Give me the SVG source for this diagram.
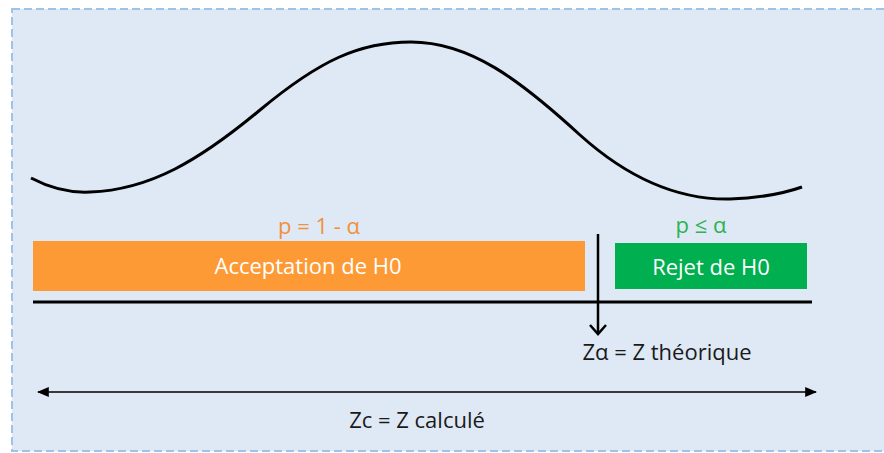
<svg xmlns="http://www.w3.org/2000/svg" width="884" height="453" viewBox="0 0 884 453">
<defs>
<style>
.t{font-family:"Open Sans","Noto Sans",sans-serif;}
.lbl{font-size:22px;fill:#ffffff;text-anchor:middle;}
.cap{font-size:22px;fill:#1a1a1a;text-anchor:middle;}
</style>
<marker id="ah" viewBox="0 0 10 10" refX="9" refY="5" markerWidth="12" markerHeight="12" markerUnits="userSpaceOnUse" orient="auto-start-reverse">
<path d="M0,0.8 L10,5 L0,9.2 z" fill="#000"/>
</marker>
</defs>
<rect x="12" y="9" width="880" height="442" fill="#DEE9F5" stroke="#9DC3E6" stroke-width="2" stroke-dasharray="8,4"/>
<g id="curve">
<path d="M31,178 C50,188 70,193 90,192 C150,190 200,160 260,110 C320,60 360,42 411,42 C470,42 520,80 580,135 C630,180 680,200 730,199 C760,198 785,193 802,187" fill="none" stroke="#000" stroke-width="3"/>
</g>
<g id="acceptation">
<rect x="33" y="241" width="552" height="50" fill="#FE9A36"/>
<text class="t lbl" x="308" y="274">Acceptation de H0</text>
<text class="t" x="319" y="234" font-size="22" fill="#F0913C" text-anchor="middle">p = 1 - α</text>
</g>
<g id="rejet">
<rect x="615" y="243" width="192" height="46" fill="#00B050"/>
<text class="t lbl" x="711" y="275">Rejet de H0</text>
<text class="t" x="701" y="233" font-size="22" fill="#2EB350" text-anchor="middle">p ≤ α</text>
</g>
<g id="connectors">
<line x1="33" y1="302" x2="812" y2="302" stroke="#000" stroke-width="3"/>
<path d="M598,234 L598,333" fill="none" stroke="#000" stroke-width="2.5"/>
<path d="M590,325 L598,334 L606,325" fill="none" stroke="#000" stroke-width="2.5"/>
<line x1="38" y1="392" x2="816" y2="392" stroke="#000" stroke-width="1.5" marker-start="url(#ah)" marker-end="url(#ah)"/>
</g>
<g id="ztheo">
<text class="t cap" x="667" y="360">Zα = Z théorique</text>
</g>
<g id="zcalc">
<text class="t cap" x="417" y="428">Zc = Z calculé</text>
</g>
</svg>
